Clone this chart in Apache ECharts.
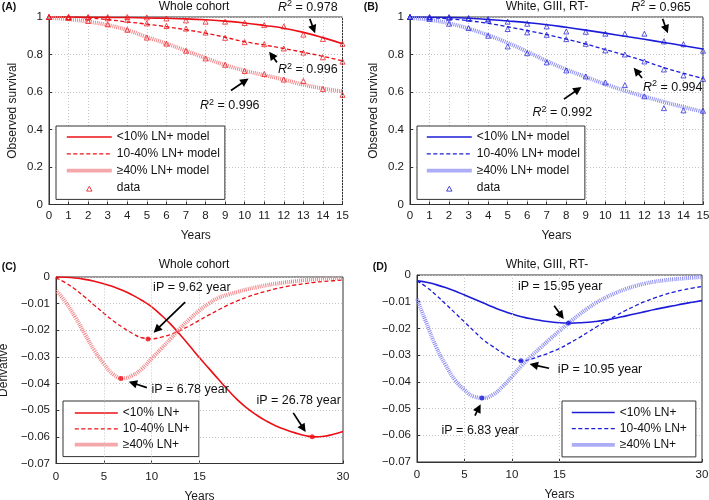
<!DOCTYPE html>
<html><head><meta charset="utf-8">
<script src="https://cdn.jsdelivr.net/npm/echarts@6/dist/echarts.min.js"></script>
<style>html,body{margin:0;padding:0;background:#fff}#c{width:709px;height:500px}</style>
</head><body><div id="c"></div>
<script>
// ---------- data ----------
const years15 = [0,1,2,3,4,5,6,7,8,9,10,11,12,13,14,15];
const years30 = [0,1,2,3,4,5,6,7,8,9,10,11,12,13,14,15,16,17,18,19,20,21,22,23,24,25,26,27,28,29,30];

// Panel A (whole cohort) survival
const A_lt10_model = [1.0,1.0,0.999,0.998,0.997,0.995,0.993,0.99,0.985,0.978,0.968,0.955,0.94,0.918,0.89,0.857];
const A_1040_model = [1.0,0.999,0.995,0.986,0.974,0.962,0.948,0.932,0.914,0.892,0.868,0.851,0.832,0.812,0.79,0.766];
const A_ge40_model = [0.995,0.988,0.975,0.957,0.93,0.893,0.858,0.82,0.781,0.744,0.714,0.69,0.666,0.639,0.619,0.603];
const A_lt10_data = [1.0,1.0,1.0,1.0,1.0,0.998,0.992,0.982,0.975,0.975,0.968,0.957,0.95,0.906,0.883,0.857];
const A_1040_data = [1.0,1.0,0.997,0.993,0.985,0.966,0.952,0.938,0.917,0.889,0.866,0.855,0.832,0.81,0.785,0.762];
const A_ge40_data = [1.0,0.995,0.979,0.961,0.932,0.89,0.858,0.82,0.779,0.745,0.712,0.696,0.666,0.659,0.616,0.585];

// Panel B (White, GIII, RT-) survival
const B_lt10_model = [1.0,0.999,0.997,0.993,0.987,0.979,0.97,0.959,0.945,0.93,0.914,0.897,0.881,0.864,0.847,0.829];
const B_1040_model = [1.0,0.996,0.99,0.98,0.966,0.948,0.928,0.906,0.882,0.856,0.826,0.797,0.765,0.73,0.7,0.672];
const B_ge40_model = [0.995,0.985,0.966,0.938,0.903,0.862,0.815,0.765,0.72,0.68,0.642,0.607,0.576,0.547,0.52,0.495];
const B_lt10_data = [1.0,1.0,1.0,0.995,0.989,0.975,0.964,0.95,0.923,0.921,0.911,0.911,0.911,0.87,0.855,0.82];
const B_1040_data = [1.0,0.998,0.995,0.99,0.982,0.936,0.918,0.905,0.882,0.857,0.822,0.8,0.763,0.72,0.688,0.67];
const B_ge40_data = [1.0,0.99,0.964,0.941,0.9,0.843,0.807,0.758,0.715,0.683,0.651,0.637,0.577,0.514,0.502,0.5];

// Panel C (whole cohort) derivative
const C_lt10 = [0,-0.0001,-0.0004,-0.0009,-0.0016,-0.0025,-0.0037,-0.0051,-0.0068,-0.0088,-0.0112,-0.0143,-0.0178,-0.0218,-0.026,-0.0303,-0.0344,-0.0385,-0.0425,-0.0462,-0.0493,-0.0519,-0.0541,-0.0559,-0.0573,-0.0585,-0.0595,-0.06,-0.0598,-0.059,-0.058];
const C_1040 = [-0.0003,-0.0022,-0.0046,-0.0075,-0.0106,-0.0136,-0.0165,-0.019,-0.0212,-0.0228,-0.0232,-0.0226,-0.0215,-0.02,-0.0182,-0.0162,-0.0142,-0.0123,-0.0105,-0.0089,-0.0075,-0.0063,-0.0053,-0.0044,-0.0036,-0.003,-0.0025,-0.002,-0.0017,-0.0014,-0.0011];
const C_ge40 = [-0.005,-0.0094,-0.015,-0.0213,-0.0275,-0.0325,-0.0366,-0.038,-0.0369,-0.0344,-0.0306,-0.0269,-0.0231,-0.0192,-0.0157,-0.0125,-0.0099,-0.0078,-0.0066,-0.0056,-0.0046,-0.0038,-0.0031,-0.0025,-0.002,-0.0016,-0.0012,-0.0009,-0.0006,-0.0004,-0.0003];
const C_iP = [[9.62,-0.0233],[6.78,-0.0381],[26.78,-0.06]];

// Panel D (White, GIII, RT-) derivative
const D_lt10 = [-0.0022,-0.0027,-0.0036,-0.0047,-0.006,-0.0075,-0.009,-0.0105,-0.012,-0.0134,-0.0146,-0.0156,-0.0164,-0.017,-0.0175,-0.0179,-0.018,-0.0179,-0.0177,-0.0173,-0.0168,-0.0161,-0.0153,-0.0145,-0.0137,-0.0129,-0.0122,-0.0115,-0.0108,-0.0102,-0.0096];
const D_1040 = [-0.0022,-0.0045,-0.0075,-0.0108,-0.0142,-0.0176,-0.021,-0.0243,-0.0268,-0.0292,-0.0312,-0.0321,-0.0315,-0.0303,-0.029,-0.0275,-0.0256,-0.0236,-0.0214,-0.0192,-0.0171,-0.0151,-0.0132,-0.0115,-0.0099,-0.0086,-0.0074,-0.0064,-0.0056,-0.0049,-0.0043];
const D_ge40 = [-0.009,-0.018,-0.0268,-0.0336,-0.0393,-0.043,-0.0455,-0.046,-0.0448,-0.0418,-0.038,-0.034,-0.0305,-0.0272,-0.024,-0.0209,-0.0179,-0.015,-0.0124,-0.0101,-0.0082,-0.0066,-0.0052,-0.0041,-0.0032,-0.0025,-0.002,-0.0016,-0.0013,-0.001,-0.0008];
const D_iP = [[15.95,-0.018],[10.95,-0.0321],[6.83,-0.046]];

// labels
const namesSurv = ['<10% LN+ model','10-40% LN+ model','\u226540% LN+ model','data'];
const namesDer = ['<10% LN+','10-40% LN+','\u226540% LN+'];
const R2_A = ['0.978','0.996','0.996'];
const R2_B = ['0.965','0.994','0.992'];
const iP_C = ['9.62','6.78','26.78'];
const iP_D = ['15.95','10.95','6.83'];

// ---------- styles ----------
const FONT = '"Liberation Sans", Arial, Helvetica, sans-serif';
const RED = '#ec1016', RED_L = '#f2868a', RED_P = '#f5a8ab';
const BLUE = '#1c1cd8', BLUE_L = '#8c8cf2', BLUE_P = '#adadf5';
const pairs = (xs, ys) => xs.map((x, i) => [x, ys[i]]);
const LS = [{width:1.6, type:'solid'}, {width:1.3, type:[4,2.5]}, {width:4, type:[1,1]}];

function lineSeries(name, gi, xs, ys, color, kind) {
  return {type:'line', name, xAxisIndex:gi, yAxisIndex:gi, data:pairs(xs, ys), smooth:true,
    symbol:'none', showSymbol:false, lineStyle:Object.assign({color}, LS[kind]), itemStyle:{color}, z:2, silent:true};
}
function dataSeries(name, gi, xs, ys, color) {
  return {type:'scatter', name, xAxisIndex:gi, yAxisIndex:gi, data:pairs(xs, ys), symbol:'triangle', symbolSize:[5,5],
    itemStyle:{color:'rgba(255,255,255,0)', borderColor:color, borderWidth:0.9}, z:3, silent:true};
}
function dotSeries(gi, pts, color) {
  return {type:'scatter', name:'_ip'+gi, xAxisIndex:gi, yAxisIndex:gi, data:pts, symbol:'circle', symbolSize:5,
    itemStyle:{color}, z:4, silent:true};
}

const axisCommon = {
  axisLine:{show:true, onZero:false, lineStyle:{color:'#333', width:1}},
  axisTick:{show:true, inside:true, length:3, lineStyle:{color:'#333'}},
  axisLabel:{color:'#1a1a1a', fontSize:11.5, fontFamily:FONT},
  nameTextStyle:{color:'#1a1a1a', fontSize:12, fontFamily:FONT},
  nameMoveOverlap:false
};
function xAxisSurv(gi) {
  return Object.assign({}, axisCommon, {type:'value', gridIndex:gi, min:0, max:15, interval:1,
    name:'Years', nameLocation:'middle', nameGap:25,
    axisLabel:Object.assign({}, axisCommon.axisLabel, {margin:5}),
    splitLine:{show:true, lineStyle:{color:'#c4c4c4', type:[1,2], width:1}}});
}
function yAxisSurv(gi) {
  return Object.assign({}, axisCommon, {type:'value', gridIndex:gi, min:0, max:1, interval:0.2,
    name:'Observed survival', nameLocation:'middle', nameGap:30,
    axisLabel:Object.assign({}, axisCommon.axisLabel, {margin:6}),
    splitLine:{show:true, lineStyle:{color:'#c4c4c4', type:[1,2], width:1}}});
}
const derTicks = [0,5,10,15,30];
function xAxisDer(gi) {
  return Object.assign({}, axisCommon, {type:'value', gridIndex:gi, min:0, max:30, interval:5,
    name:'Years', nameLocation:'middle', nameGap:27,
    axisTick:Object.assign({}, axisCommon.axisTick, {customValues:derTicks}),
    axisLabel:Object.assign({}, axisCommon.axisLabel, {margin:7, customValues:derTicks,
      formatter: v => (derTicks.indexOf(Math.round(v)) >= 0 ? String(Math.round(v)) : '')}),
    splitLine:{show:false}});
}
function yAxisDer(gi, withName) {
  return Object.assign({}, axisCommon, {type:'value', gridIndex:gi, min:-0.07, max:0, interval:0.01,
    name: withName ? 'Derivative' : '', nameLocation:'middle', nameGap:46,
    axisLabel:Object.assign({}, axisCommon.axisLabel, {margin:6,
      formatter: v => (Math.abs(v) < 1e-9 ? '0' : '\u2212' + Math.abs(v).toFixed(2))}),
    splitLine:{show:true, lineStyle:{color:'#c4c4c4', type:[1,2], width:1}}});
}
const vGrid = {silent:true, symbol:'none', label:{show:false},
  lineStyle:{color:'#c4c4c4', type:[1,2], width:1}, data:[{xAxis:5},{xAxis:10},{xAxis:15}]};

function legendCfg(prefix, names, col, colP, box) {
  const data = names.map((n, i) => {
    if (n === 'data') return {name:prefix + n, icon:'path://M0,0M12,12M3.3,9.2L6,4.4L8.7,9.2Z',
      itemStyle:{color:'rgba(255,255,255,0)', borderColor:col, borderWidth:1}};
    if (i === 2) return {name:prefix + n, itemStyle:{opacity:0}, lineStyle:{width:3.6, type:'solid', color:colP}};
    return {name:prefix + n, itemStyle:{opacity:0}, lineStyle:{width:LS[i].width, type:LS[i].type}};
  });
  return Object.assign({data, formatter: n => n.slice(2), orient:'vertical', selectedMode:false,
    borderColor:'#333', borderWidth:1, backgroundColor:'#fff', borderRadius:0,
    textStyle:{fontSize:12, fontFamily:FONT, color:'#111'}}, box);
}

const grids = [
  {left:49, top:17, width:293.5, height:187.5},
  {left:410, top:17, width:293, height:187.5},
  {left:56, top:277, width:287, height:186.5},
  {left:417, top:275, width:285, height:187}
].map(g => Object.assign(g, {show:true, borderColor:'#333', borderWidth:1, backgroundColor:'transparent', containLabel:false, outerBoundsMode:'none'}));

const series = [];
['A:','B:'].forEach((p, gi) => {
  const col = gi === 0 ? RED : BLUE, colL = gi === 0 ? RED_L : BLUE_L;
  const m = gi === 0 ? [A_lt10_model, A_1040_model, A_ge40_model] : [B_lt10_model, B_1040_model, B_ge40_model];
  const d = gi === 0 ? [A_lt10_data, A_1040_data, A_ge40_data] : [B_lt10_data, B_1040_data, B_ge40_data];
  series.push(lineSeries(p + namesSurv[0], gi, years15, m[0], col, 0));
  series.push(lineSeries(p + namesSurv[1], gi, years15, m[1], col, 1));
  series.push(lineSeries(p + namesSurv[2], gi, years15, m[2], colL, 2));
  d.forEach(arr => series.push(dataSeries(p + 'data', gi, years15, arr, col)));
});
['C:','D:'].forEach((p, k) => {
  const gi = k + 2;
  const col = k === 0 ? RED : BLUE, colL = k === 0 ? RED_L : BLUE_L;
  const m = k === 0 ? [C_lt10, C_1040, C_ge40] : [D_lt10, D_1040, D_ge40];
  const s0 = lineSeries(p + namesDer[0], gi, years30, m[0], col, 0);
  s0.markLine = vGrid;
  series.push(s0);
  series.push(lineSeries(p + namesDer[1], gi, years30, m[1], col, 1));
  series.push(lineSeries(p + namesDer[2], gi, years30, m[2], colL, 2));
  series.push(dotSeries(gi, k === 0 ? C_iP : D_iP, col));
});

const option = {
  animation:false,
  backgroundColor:'#fff',
  grid: grids,
  xAxis: [xAxisSurv(0), xAxisSurv(1), xAxisDer(2), xAxisDer(3)],
  yAxis: [yAxisSurv(0), yAxisSurv(1), yAxisDer(2, true), yAxisDer(3, false)],
  legend: [
    legendCfg('A:', namesSurv, RED, RED_P, {left:56, top:126, itemWidth:45, itemHeight:12, itemGap:4.8, padding:[5,5,5,9]}),
    legendCfg('B:', namesSurv, BLUE, BLUE_P, {left:417, top:126, itemWidth:45, itemHeight:12, itemGap:4.8, padding:[5,5,5,8]}),
    legendCfg('C:', namesDer, RED, RED_P, {left:63, top:401, itemWidth:43, itemHeight:12, itemGap:3.8, padding:[6,9,6,10]}),
    legendCfg('D:', namesDer, BLUE, BLUE_P, {left:562, top:401, itemWidth:43, itemHeight:12, itemGap:4.2, padding:[5.5,9,6,8]})
  ],
  series
};

const chart = echarts.init(document.getElementById('c'), null, {renderer:'canvas'});
chart.setOption(option);

// ---------- annotations (anchored in data coordinates) ----------
const g = [];
const px = (gi, pt) => chart.convertToPixel({gridIndex:gi}, pt);
function arrow(gi, from, to) {
  const a = px(gi, from), b = px(gi, to);
  const dx = b[0]-a[0], dy = b[1]-a[1], L = Math.hypot(dx, dy), ux = dx/L, uy = dy/L;
  const hl = 8.5, hw = 4.2;
  const bx = b[0]-ux*hl, by = b[1]-uy*hl;
  g.push({type:'line', silent:true, z:100, shape:{x1:a[0], y1:a[1], x2:bx+ux, y2:by+uy}, style:{stroke:'#000', lineWidth:1.7}});
  g.push({type:'polygon', silent:true, z:100, shape:{points:[[b[0],b[1]],[bx-uy*hw, by+ux*hw],[bx+uy*hw, by-ux*hw]]}, style:{fill:'#000'}});
}
function r2Text(gi, pos, val) {
  const p = px(gi, pos);
  g.push({type:'text', silent:true, z:100, x:p[0], y:p[1], style:{
    text:'{i|R}{s|2}{n| = ' + val + '}', align:'center', verticalAlign:'middle',
    rich:{
      i:{fontStyle:'italic', fontSize:12.5, fontFamily:FONT, fill:'#111', lineHeight:16},
      s:{fontSize:9, fontFamily:FONT, fill:'#111', verticalAlign:'top', lineHeight:16},
      n:{fontSize:12.5, fontFamily:FONT, fill:'#111', lineHeight:16}
    }}});
}
function plainText(x, y, txt, opts) {
  g.push({type:'text', silent:true, z:100, x, y, style:Object.assign({text:txt, align:'center', verticalAlign:'middle',
    font:'12px ' + FONT, fill:'#111'}, opts || {})});
}
function ipText(gi, pos, val) {
  const p = px(gi, pos);
  plainText(p[0], p[1], 'iP = ' + val + ' year', {font:'12.5px ' + FONT});
}

// Panel A
r2Text(0, [13.23, 1.053], R2_A[0]); arrow(0, [13.33, 0.99], [13.6, 0.913]);
r2Text(0, [13.23, 0.719], R2_A[1]); arrow(0, [11.65, 0.758], [11.25, 0.815]);
r2Text(0, [9.24, 0.527], R2_A[2]);  arrow(0, [9.3, 0.608], [10.2, 0.672]);
// Panel B
r2Text(1, [12.85, 1.053], R2_B[0]); arrow(1, [12.93, 0.99], [13.2, 0.913]);
r2Text(1, [13.45, 0.624], R2_B[1]); arrow(1, [11.88, 0.675], [11.45, 0.73]);
r2Text(1, [7.8, 0.488], R2_B[2]);   arrow(1, [7.88, 0.562], [8.78, 0.627]);
// Panel C
ipText(2, [14.2, -0.004], iP_C[0]);   arrow(2, [13.5, -0.0094], [10.2, -0.0209]);
ipText(2, [14.02, -0.0422], iP_C[1]); arrow(2, [9.5, -0.0415], [7.6, -0.0393]);
ipText(2, [25.36, -0.0462], iP_C[2]); arrow(2, [24.8, -0.051], [26.1, -0.0582]);
// Panel D
ipText(3, [15.07, -0.0043], iP_D[0]); arrow(3, [14.44, -0.0115], [15.45, -0.0165]);
ipText(3, [19.27, -0.0355], iP_D[1]); arrow(3, [13.9, -0.0349], [11.85, -0.0333]);
ipText(3, [6.66, -0.0583], iP_D[2]);  arrow(3, [6.1, -0.0526], [6.7, -0.0484]);

// titles & panel letters
plainText(194, 7, 'Whole cohort');
plainText(547, 7, 'White, GIII, RT-');
plainText(194, 265, 'Whole cohort');
plainText(547, 265, 'White, GIII, RT-');
plainText(9, 7, '(A)', {font:'bold 10.5px ' + FONT});
plainText(371, 7, '(B)', {font:'bold 10.5px ' + FONT});
plainText(9, 267, '(C)', {font:'bold 10.5px ' + FONT});
plainText(380, 267, '(D)', {font:'bold 10.5px ' + FONT});

chart.setOption({graphic:{elements:g}});
</script>
</body></html>
